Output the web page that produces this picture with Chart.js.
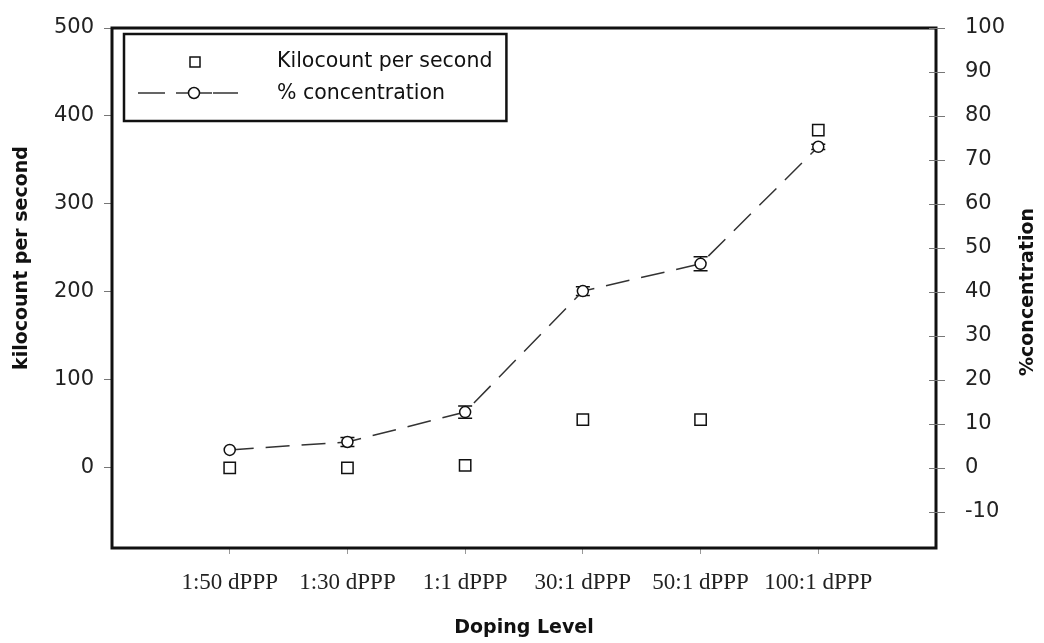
<!DOCTYPE html>
<html>
<head>
<meta charset="utf-8">
<title>Doping Level</title>
<script src="https://cdn.jsdelivr.net/npm/chart.js"></script>
<style>
  body { margin: 0; background: #fff; }
  #chart { display: block; }
</style>
</head>
<body>
<canvas id="chart" width="1044" height="643"></canvas>
<script>
const dopingLevels = ['1:50 dPPP', '1:30 dPPP', '1:1 dPPP', '30:1 dPPP', '50:1 dPPP', '100:1 dPPP'];
const kilocount = [0, 0, 3, 55, 55, 384];
const concentration = [4.1, 5.9, 12.7, 40.2, 46.4, 73];
const concentrationErr = [0, 1, 1.4, 1, 1.6, 0.6];
const leftTicks = [0, 100, 200, 300, 400, 500];
const rightTicks = [-10, 0, 10, 20, 30, 40, 50, 60, 70, 80, 90, 100];

const ink = '#111';

// error bars on the % concentration points
const errorBars = {
    id: 'errorBars',
    beforeDatasetsDraw(chart) {
        const ctx = chart.ctx;
        const x = chart.scales.x, y = chart.scales.y1;
        ctx.save();
        ctx.strokeStyle = ink;
        ctx.lineWidth = 1.5;
        concentration.forEach((v, i) => {
            const e = concentrationErr[i];
            if (!e) return;
            const px = x.getPixelForValue(i + 1);
            const top = y.getPixelForValue(v + e);
            const bot = y.getPixelForValue(v - e);
            ctx.beginPath();
            ctx.moveTo(px, top); ctx.lineTo(px, bot);
            ctx.moveTo(px - 7, top); ctx.lineTo(px + 7, top);
            ctx.moveTo(px - 7, bot); ctx.lineTo(px + 7, bot);
            ctx.stroke();
        });
        ctx.restore();
    }
};

// frame, right ticks, legend box and axis titles
const decorations = {
    id: 'decorations',
    afterDraw(chart) {
        const ctx = chart.ctx;
        const a = chart.chartArea;
        ctx.save();

        ctx.strokeStyle = ink;
        ctx.lineWidth = 3;
        ctx.strokeRect(a.left, a.top, a.right - a.left, a.bottom - a.top);

        const y1 = chart.scales.y1;
        ctx.strokeStyle = '#777';
        ctx.lineWidth = 1;
        rightTicks.forEach(v => {
            const py = Math.round(y1.getPixelForValue(v)) + 0.5;
            ctx.beginPath();
            ctx.moveTo(a.right - 7, py);
            ctx.lineTo(a.right + 9, py);
            ctx.stroke();
        });

        // legend
        const ds = chart.data.datasets;
        ctx.font = '20.5px "DejaVu Sans"';
        const textX = 277;
        const w = Math.max(...ds.map(d => ctx.measureText(d.label).width));
        ctx.fillStyle = '#fff';
        ctx.fillRect(124, 34, textX + w + 14 - 124, 87);
        ctx.strokeStyle = ink;
        ctx.lineWidth = 2.5;
        ctx.strokeRect(124, 34, textX + w + 14 - 124, 87);

        ctx.lineWidth = 1.5;
        ctx.strokeRect(190, 57, 10, 10);

        ctx.strokeStyle = '#333';
        ctx.lineWidth = 1.5;
        ctx.beginPath();
        ctx.moveTo(138, 93); ctx.lineTo(165, 93);
        ctx.moveTo(176, 93); ctx.lineTo(212, 93);
        ctx.moveTo(213, 93); ctx.lineTo(238, 93);
        ctx.stroke();
        ctx.beginPath();
        ctx.arc(194, 93, 5.5, 0, Math.PI * 2);
        ctx.fillStyle = '#fff';
        ctx.fill();
        ctx.strokeStyle = ink;
        ctx.stroke();

        ctx.fillStyle = ink;
        ctx.textBaseline = 'middle';
        ctx.textAlign = 'left';
        ctx.fillText(ds[0].label, textX, 62);
        ctx.fillText(ds[1].label, textX, 94);

        // axis titles
        ctx.font = 'bold 19px "DejaVu Sans"';
        ctx.textAlign = 'center';
        ctx.fillText('Doping Level', (a.left + a.right) / 2, 628);

        ctx.save();
        ctx.translate(22, 258);
        ctx.rotate(-Math.PI / 2);
        ctx.fillText('kilocount per second', 0, 0);
        ctx.restore();

        ctx.save();
        ctx.translate(1028, 292);
        ctx.rotate(-Math.PI / 2);
        ctx.fillText('%concentration', 0, 0);
        ctx.restore();

        ctx.restore();
    }
};

new Chart(document.getElementById('chart'), {
    type: 'line',
    data: {
        datasets: [
            {
                label: 'Kilocount per second',
                data: kilocount.map((v, i) => ({ x: i + 1, y: v })),
                yAxisID: 'y',
                showLine: false,
                pointStyle: 'rect',
                pointRadius: 8,
                pointBackgroundColor: '#fff',
                pointBorderColor: ink,
                pointBorderWidth: 1.5
            },
            {
                label: '% concentration',
                data: concentration.map((v, i) => ({ x: i + 1, y: v })),
                yAxisID: 'y1',
                borderColor: '#333',
                borderWidth: 1.5,
                borderDash: [24, 12],
                tension: 0,
                pointStyle: 'circle',
                pointRadius: 5.5,
                pointBackgroundColor: '#fff',
                pointBorderColor: ink,
                pointBorderWidth: 1.5
            }
        ]
    },
    options: {
        responsive: false,
        animation: false,
        layout: { padding: { top: 28, left: 0, right: 0, bottom: 0 } },
        plugins: {
            legend: { display: false },
            tooltip: { enabled: false }
        },
        scales: {
            x: {
                type: 'linear',
                min: 0,
                max: 7,
                afterBuildTicks: s => { s.ticks = dopingLevels.map((_, i) => ({ value: i + 1 })); },
                afterFit: s => { s.height = 95; s.paddingLeft = 0; s.paddingRight = 0; },
                ticks: {
                    callback: v => dopingLevels[v - 1],
                    font: { family: 'Liberation Serif', size: 23 },
                    color: '#222',
                    padding: 15,
                    maxRotation: 0,
                    autoSkip: false
                },
                grid: { drawOnChartArea: false, tickLength: 6, tickColor: '#999' },
                border: { display: false }
            },
            y: {
                position: 'left',
                min: -91,
                max: 500,
                afterBuildTicks: s => { s.ticks = leftTicks.map(v => ({ value: v })); },
                afterFit: s => { s.width = 112; s.paddingTop = 0; s.paddingBottom = 0; },
                ticks: {
                    font: { family: 'DejaVu Sans', size: 21 },
                    color: '#222',
                    padding: 10
                },
                grid: { drawOnChartArea: false, tickLength: 8, tickColor: '#777' },
                border: { display: false }
            },
            y1: {
                position: 'right',
                min: -18.2,
                max: 100,
                afterBuildTicks: s => { s.ticks = rightTicks.map(v => ({ value: v })); },
                afterFit: s => { s.width = 108; s.paddingTop = 0; s.paddingBottom = 0; },
                ticks: {
                    font: { family: 'DejaVu Sans', size: 21 },
                    color: '#222',
                    padding: 29
                },
                grid: { drawOnChartArea: false, drawTicks: false },
                border: { display: false }
            }
        }
    },
    plugins: [errorBars, decorations]
});
</script>
</body>
</html>
